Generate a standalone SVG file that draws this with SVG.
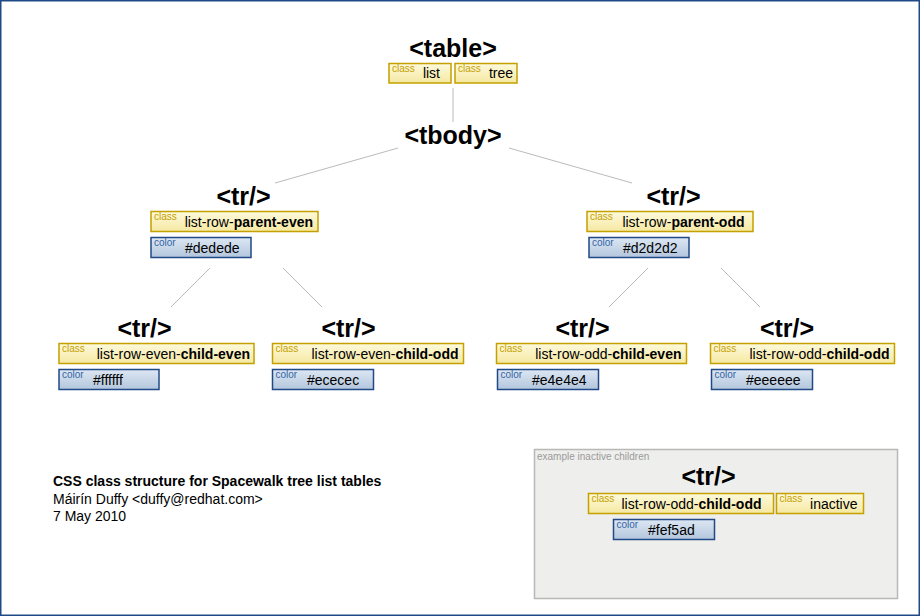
<svg xmlns="http://www.w3.org/2000/svg" width="920" height="616" viewBox="0 0 920 616">
<defs>
<linearGradient id="gy" x1="0" y1="0" x2="0" y2="1"><stop offset="0" stop-color="#fefadc"/><stop offset="1" stop-color="#f5e8a2"/></linearGradient>
<linearGradient id="gb" x1="0" y1="0" x2="0" y2="1"><stop offset="0" stop-color="#dde7f3"/><stop offset="1" stop-color="#b3c6dd"/></linearGradient>
<style>
.t{font-family:"Liberation Sans",Arial,sans-serif;font-weight:bold;font-size:25px;text-anchor:middle;fill:#000}
.cb{fill:url(#gy);stroke:#c4a000;stroke-width:1.5}
.kb{fill:url(#gb);stroke:#204a87;stroke-width:1.5}
.cl{font-family:"Liberation Sans",Arial,sans-serif;font-size:10px;fill:#c4a000}
.kl{font-family:"Liberation Sans",Arial,sans-serif;font-size:10px;fill:#3465a4}
.v{font-family:"Liberation Sans",Arial,sans-serif;font-size:14px;fill:#000}
.ve{font-family:"Liberation Sans",Arial,sans-serif;font-size:14px;fill:#000;text-anchor:end}
.b{font-weight:bold}
.ln{stroke:#bbbbbb;stroke-width:1;fill:none}
.f{font-family:"Liberation Sans",Arial,sans-serif;font-size:14px;fill:#000}
</style>
</defs>
<rect x="0.75" y="0.75" width="918.5" height="614.5" fill="#ffffff" stroke="#204a87" stroke-width="1.5"/>
<g id="connectors">
<line class="ln" x1="453" y1="88" x2="453" y2="122"/>
<line class="ln" x1="398" y1="148" x2="275" y2="183"/>
<line class="ln" x1="509" y1="148" x2="632" y2="183"/>
<line class="ln" x1="210" y1="268" x2="171" y2="307"/>
<line class="ln" x1="283" y1="268" x2="322" y2="307"/>
<line class="ln" x1="648" y1="268" x2="609" y2="307"/>
<line class="ln" x1="721" y1="268" x2="760" y2="307"/>
</g>
<g id="table">
<text class="t" x="453" y="57">&lt;table&gt;</text>
<rect class="cb" x="389" y="63.5" width="62" height="19.5"/>
<text class="cl" x="392" y="72">class</text>
<text class="ve" x="440" y="78">list</text>
<rect class="cb" x="455" y="63.5" width="62" height="19.5"/>
<text class="cl" x="458" y="72">class</text>
<text class="ve" x="513" y="78">tree</text>
</g>
<g id="tbody">
<text class="t" x="453" y="144">&lt;tbody&gt;</text>
</g>
<g id="tr-parent-even">
<text class="t" x="243.5" y="205">&lt;tr/&gt;</text>
<rect class="cb" x="151" y="211.5" width="167" height="20"/>
<text class="cl" x="154" y="219.5">class</text>
<text class="ve" x="313" y="226.5">list-row-<tspan class="b">parent-even</tspan></text>
<rect class="kb" x="151" y="237.5" width="100" height="20"/>
<text class="kl" x="154" y="245.5">color</text>
<text class="v" x="185" y="252.5">#dedede</text>
</g>
<g id="tr-parent-odd">
<text class="t" x="673.5" y="205">&lt;tr/&gt;</text>
<rect class="cb" x="587" y="211.5" width="166" height="20"/>
<text class="cl" x="590" y="219.5">class</text>
<text class="ve" x="744.5" y="226.5">list-row-<tspan class="b">parent-odd</tspan></text>
<rect class="kb" x="589" y="237.5" width="100" height="20"/>
<text class="kl" x="592" y="245.5">color</text>
<text class="v" x="623" y="252.5">#d2d2d2</text>
</g>
<g id="tr-even-child-even">
<text class="t" x="144.5" y="337">&lt;tr/&gt;</text>
<rect class="cb" x="59" y="343.5" width="195" height="20"/>
<text class="cl" x="62" y="351.5">class</text>
<text class="ve" x="250" y="358.5">list-row-even-<tspan class="b">child-even</tspan></text>
<rect class="kb" x="59" y="369.5" width="100" height="20"/>
<text class="kl" x="62" y="377.5">color</text>
<text class="v" x="93" y="384.5">#ffffff</text>
</g>
<g id="tr-even-child-odd">
<text class="t" x="348.5" y="337">&lt;tr/&gt;</text>
<rect class="cb" x="272.5" y="343.5" width="191" height="20"/>
<text class="cl" x="275.5" y="351.5">class</text>
<text class="ve" x="458.5" y="358.5">list-row-even-<tspan class="b">child-odd</tspan></text>
<rect class="kb" x="272.5" y="369.5" width="101" height="20"/>
<text class="kl" x="275.5" y="377.5">color</text>
<text class="v" x="307" y="384.5">#ececec</text>
</g>
<g id="tr-odd-child-even">
<text class="t" x="582.5" y="337">&lt;tr/&gt;</text>
<rect class="cb" x="496.5" y="343.5" width="190" height="20"/>
<text class="cl" x="499.5" y="351.5">class</text>
<text class="ve" x="681.5" y="358.5">list-row-odd-<tspan class="b">child-even</tspan></text>
<rect class="kb" x="497.5" y="369.5" width="101" height="20"/>
<text class="kl" x="500.5" y="377.5">color</text>
<text class="v" x="532" y="384.5">#e4e4e4</text>
</g>
<g id="tr-odd-child-odd">
<text class="t" x="787" y="337">&lt;tr/&gt;</text>
<rect class="cb" x="710.5" y="343.5" width="184" height="20"/>
<text class="cl" x="713.5" y="351.5">class</text>
<text class="ve" x="889.5" y="358.5">list-row-odd-<tspan class="b">child-odd</tspan></text>
<rect class="kb" x="711.5" y="369.5" width="101" height="20"/>
<text class="kl" x="714.5" y="377.5">color</text>
<text class="v" x="746" y="384.5">#eeeeee</text>
</g>
<g id="caption">
<text class="f b" x="53" y="486">CSS class structure for Spacewalk tree list tables</text>
<text class="f" x="53" y="503.5">Máirín Duffy &lt;duffy@redhat.com&gt;</text>
<text class="f" x="53" y="521">7 May 2010</text>
</g>
<g id="inactive-example">
<rect x="534.5" y="449.5" width="363" height="149" fill="#eeeeec" stroke="#b8b8b6" stroke-width="1.5"/>
<text x="537" y="460" font-family="Liberation Sans, Arial, sans-serif" font-size="10" fill="#9a9a9a">example inactive children</text>
<text class="t" x="708.5" y="485">&lt;tr/&gt;</text>
<rect class="cb" x="588.5" y="493.5" width="185" height="20"/>
<text class="cl" x="591.5" y="501.5">class</text>
<text class="ve" x="761.5" y="508.5">list-row-odd-<tspan class="b">child-odd</tspan></text>
<rect class="cb" x="776.5" y="493.5" width="87" height="20"/>
<text class="cl" x="779.5" y="501.5">class</text>
<text class="ve" x="857.5" y="508.5">inactive</text>
<rect class="kb" x="613.5" y="519.5" width="101" height="20"/>
<text class="kl" x="616.5" y="527.5">color</text>
<text class="v" x="648" y="534.5">#fef5ad</text>
</g>
</svg>
